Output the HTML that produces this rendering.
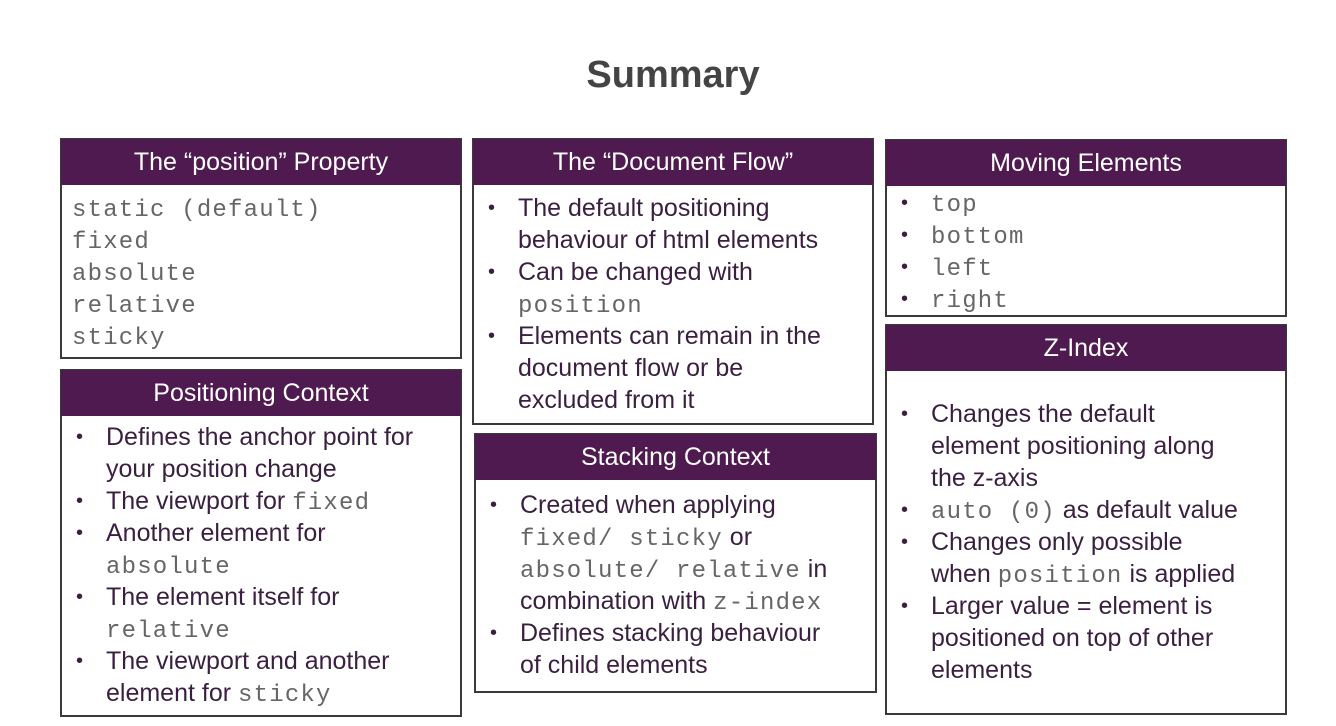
<!DOCTYPE html>
<html><head><meta charset="utf-8"><style>
body{margin:0;width:1336px;height:726px;background:#fff;position:relative;overflow:hidden;font-family:"Liberation Sans",sans-serif;}
h1{position:absolute;left:0;width:1346px;top:52px;margin:0;text-align:center;font-size:38px;font-weight:bold;color:#444;line-height:46px;}
.box{position:absolute;border:2px solid #3a3a3a;box-sizing:border-box;}
.hd{background:#4f1a4f;color:#fff;height:46px;line-height:46px;text-align:center;font-size:25px;margin:-1px -1px 0 -1px;}
.bd{color:#3a1f40;font-size:25px;line-height:32px;}
ul{list-style:none;margin:0;padding:0;}
li{position:relative;padding-left:44px;height:auto;}
li:before{content:"•";position:absolute;left:14px;top:0;font-size:20px;}
code{font-family:"Liberation Mono",monospace;font-size:24px;line-height:10px;color:#666;letter-spacing:1.2px;}
</style></head><body>
<h1>Summary</h1>

<div class="box" style="left:60px;top:138px;width:402px;height:221px;">
<div class="hd">The “position” Property</div>
<div class="bd" style="padding:7px 0 0 10px;"><code>static (default)<br>fixed<br>absolute<br>relative<br>sticky</code></div>
</div>

<div class="box" style="left:60px;top:369px;width:402px;height:348px;">
<div class="hd">Positioning Context</div>
<div class="bd" style="padding-top:5px;"><ul>
<li>Defines the anchor point for<br>your position change</li>
<li>The viewport for <code>fixed</code></li>
<li>Another element for<br><code>absolute</code></li>
<li>The element itself for<br><code>relative</code></li>
<li>The viewport and another<br>element for <code>sticky</code></li>
</ul></div>
</div>

<div class="box" style="left:472px;top:138px;width:402px;height:287px;">
<div class="hd">The “Document Flow”</div>
<div class="bd" style="padding-top:7px;"><ul>
<li>The default positioning<br>behaviour of html elements</li>
<li>Can be changed with<br><code>position</code></li>
<li>Elements can remain in the<br>document flow or be<br>excluded from it</li>
</ul></div>
</div>

<div class="box" style="left:474px;top:433px;width:403px;height:260px;">
<div class="hd">Stacking Context</div>
<div class="bd" style="padding-top:9px;"><ul>
<li>Created when applying<br><code>fixed/ sticky</code> or<br><code>absolute/ relative</code> in<br>combination with <code>z-index</code></li>
<li>Defines stacking behaviour<br>of child elements</li>
</ul></div>
</div>

<div class="box" style="left:885px;top:139px;width:402px;height:178px;">
<div class="hd">Moving Elements</div>
<div class="bd" style="padding-top:1px;"><ul>
<li><code>top</code></li>
<li><code>bottom</code></li>
<li><code>left</code></li>
<li><code>right</code></li>
</ul></div>
</div>

<div class="box" style="left:885px;top:324px;width:402px;height:391px;">
<div class="hd">Z-Index</div>
<div class="bd" style="padding-top:27px;"><ul>
<li>Changes the default<br>element positioning along<br>the z-axis</li>
<li><code>auto (0)</code> as default value</li>
<li>Changes only possible<br>when <code>position</code> is applied</li>
<li>Larger value = element is<br>positioned on top of other<br>elements</li>
</ul></div>
</div>
</body></html>
